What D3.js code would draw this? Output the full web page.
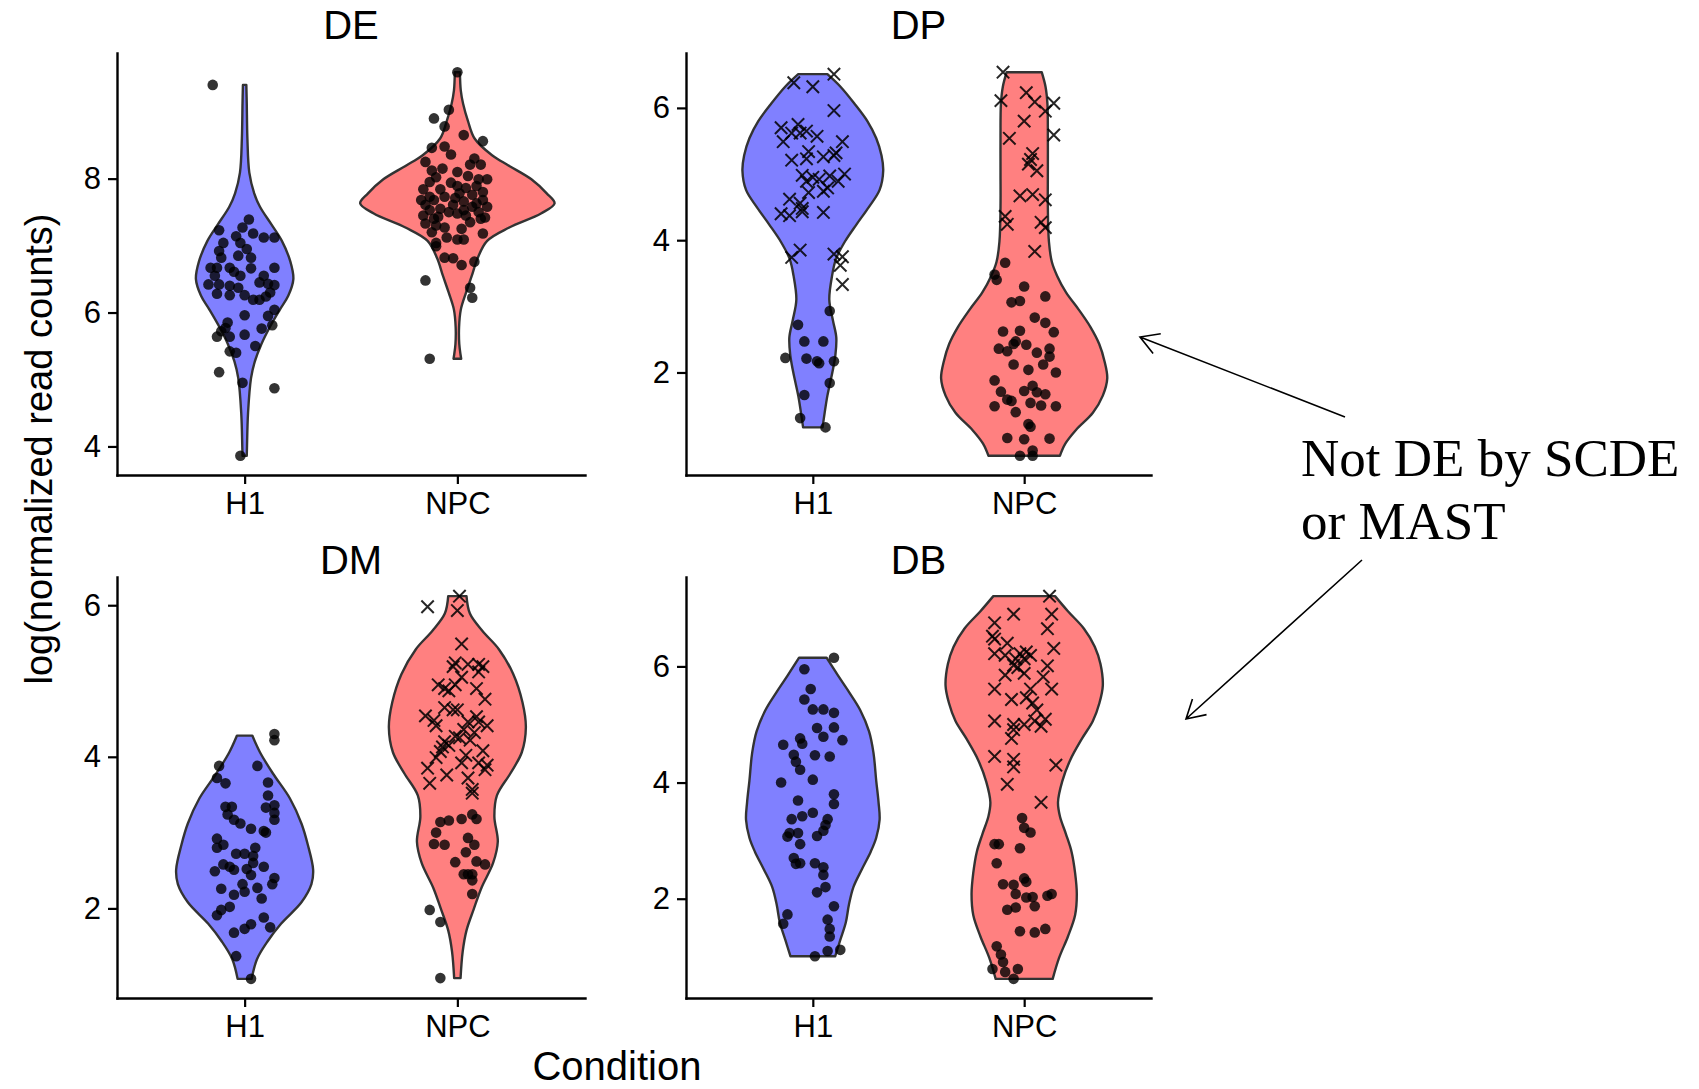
<!DOCTYPE html>
<html>
<head>
<meta charset="utf-8">
<script src="https://cdn.jsdelivr.net/npm/d3@7"></script>
<style>
  html, body { margin: 0; padding: 0; background: #ffffff; }
  svg { display: block; }
</style>
</head>
<body>
<svg id="chart" width="1699" height="1089"></svg>
<script>
// ---- categories ----
const panelNames = ["DE", "DP", "DM", "DB"];
const conditions = ["H1", "NPC"];
const conditionFill = ["#8080ff", "#ff8080"];

// ---- y tick labels per panel ----
const yTicksDE = [4, 6, 8];
const yTicksDP = [2, 4, 6];
const yTicksDM = [2, 4, 6];
const yTicksDB = [2, 4, 6];

// ---- violin outlines: [log(normalized read count), half width in category units] ----
const violinDE_H1 = [[3.86,0.010],[3.99,0.011],[4.5,0.016],[5.02,0.030],[5.27,0.048],[5.53,0.079],[5.78,0.118],[6.04,0.165],[6.25,0.205],[6.5,0.229],[6.76,0.215],[7.07,0.175],[7.32,0.125],[7.58,0.072],[7.78,0.045],[8.09,0.022],[8.6,0.013],[9.12,0.010],[9.40,0.008]];
const violinDE_NPC = [[5.31,0.018],[5.37,0.015],[5.53,0.009],[5.78,0.008],[6.04,0.016],[6.3,0.041],[6.55,0.068],[6.81,0.095],[7.07,0.14],[7.27,0.244],[7.48,0.393],[7.63,0.457],[7.78,0.42],[7.99,0.348],[8.19,0.244],[8.35,0.163],[8.6,0.081],[8.86,0.05],[9.12,0.027],[9.32,0.016],[9.59,0.012]];
const violinDP_H1 = [[1.17,0.046],[1.39,0.056],[1.65,0.069],[2.01,0.093],[2.27,0.107],[2.53,0.111],[2.79,0.095],[3.1,0.078],[3.46,0.091],[3.72,0.11],[3.98,0.152],[4.24,0.207],[4.5,0.265],[4.76,0.316],[5.05,0.333],[5.28,0.325],[5.54,0.3],[5.8,0.258],[6.06,0.198],[6.32,0.131],[6.51,0.069]];
const violinDP_NPC = [[0.74,0.169],[0.92,0.194],[1.13,0.245],[1.39,0.325],[1.65,0.372],[1.91,0.393],[2.17,0.38],[2.43,0.355],[2.69,0.313],[2.95,0.258],[3.21,0.198],[3.46,0.156],[3.67,0.131],[3.98,0.117],[4.5,0.112],[5.02,0.112],[5.54,0.112],[6.06,0.11],[6.32,0.101],[6.54,0.083]];
const violinDM_H1 = [[1.07,0.033],[1.33,0.058],[1.57,0.109],[1.80,0.172],[2.08,0.267],[2.32,0.314],[2.51,0.322],[2.84,0.297],[3.12,0.267],[3.45,0.213],[3.78,0.133],[4.06,0.072],[4.28,0.036]];
const violinDM_NPC = [[1.08,0.015],[1.43,0.025],[1.71,0.043],[1.99,0.077],[2.27,0.113],[2.6,0.168],[2.88,0.19],[3.21,0.174],[3.49,0.186],[3.78,0.249],[4.06,0.303],[4.39,0.322],[4.72,0.306],[5.09,0.263],[5.42,0.195],[5.66,0.118],[5.89,0.059],[6.12,0.043]];
const violinDB_H1 = [[1.01,0.106],[1.29,0.13],[1.59,0.156],[1.9,0.171],[2.2,0.192],[2.5,0.231],[2.81,0.274],[3.05,0.3],[3.36,0.316],[3.66,0.311],[4.03,0.3],[4.51,0.287],[4.88,0.266],[5.25,0.224],[5.55,0.173],[5.85,0.118],[6.15,0.065]];
const violinDB_NPC = [[0.62,0.135],[0.98,0.165],[1.35,0.207],[1.72,0.241],[2.08,0.249],[2.44,0.241],[2.81,0.224],[3.11,0.198],[3.42,0.169],[3.66,0.16],[4.02,0.18],[4.39,0.218],[4.76,0.274],[5.06,0.325],[5.37,0.356],[5.67,0.372],[6.04,0.361],[6.34,0.334],[6.65,0.283],[6.95,0.207],[7.21,0.146]];

// ---- cells: [log(normalized read count), horizontal jitter in category units] ----
const dotsDE_H1 = [[9.40,-0.15],[7.23,-0.12],[7.39,0.02],[7.27,-0.01],[7.18,0.04],[7.14,-0.04],[7.12,0.09],[7.12,0.14],[7.04,-0.10],[7.04,-0.02],[6.92,-0.12],[6.95,0.01],[6.85,-0.03],[6.82,0.03],[6.82,-0.11],[6.67,-0.16],[6.67,-0.13],[6.67,-0.07],[6.61,-0.05],[6.55,-0.02],[6.67,0.14],[6.55,0.09],[6.45,0.07],[6.43,0.11],[6.41,0.14],[6.42,-0.17],[6.42,-0.12],[6.40,-0.07],[6.37,-0.03],[6.28,-0.13],[6.26,-0.07],[6.26,0.00],[6.19,0.04],[6.19,0.07],[6.30,0.12],[6.04,0.14],[5.96,0.00],[5.95,0.11],[5.81,0.13],[5.85,-0.08],[5.77,-0.09],[5.72,-0.11],[5.64,-0.13],[5.64,-0.07],[5.67,0.00],[5.76,0.08],[5.50,0.05],[5.42,-0.07],[5.40,-0.04],[5.11,-0.12],[4.95,-0.01],[4.87,0.14],[3.86,-0.02],[6.55,-0.14],[6.66,0.03],[6.24,0.10]];
const crossesDE_H1 = [];
const dotsDE_NPC = [[9.59,0.00],[9.03,-0.04],[8.90,-0.11],[8.78,-0.06],[8.65,0.03],[8.56,0.12],[8.46,-0.12],[8.48,-0.06],[8.25,-0.15],[8.36,-0.03],[8.12,-0.12],[8.15,-0.07],[8.10,0.00],[8.21,0.06],[8.21,0.11],[7.99,0.14],[8.02,-0.10],[7.99,0.10],[7.89,0.00],[7.84,-0.16],[7.84,-0.08],[7.86,0.04],[7.76,0.07],[7.73,-0.13],[7.73,-0.06],[7.78,0.01],[7.66,0.03],[7.68,0.12],[7.58,0.14],[7.61,-0.15],[7.61,-0.02],[7.58,0.07],[7.50,0.10],[7.45,-0.16],[7.40,-0.11],[7.43,-0.09],[7.50,-0.04],[7.48,0.00],[7.45,0.04],[7.42,0.13],[7.33,-0.15],[7.30,-0.10],[7.27,-0.06],[7.25,0.02],[7.18,0.12],[7.12,-0.05],[7.09,0.00],[7.09,0.03],[7.04,-0.10],[6.99,-0.10],[6.82,-0.06],[6.81,-0.02],[6.76,0.08],[6.71,0.02],[6.48,-0.15],[6.37,0.06],[6.22,0.07],[5.31,-0.13],[7.53,-0.13],[7.55,-0.08],[7.71,-0.01],[7.89,0.09],[7.68,-0.17],[7.94,-0.03],[8.04,0.05],[7.63,0.09],[7.68,-0.11],[7.53,0.03],[7.35,0.06],[7.95,-0.13],[7.80,0.12],[7.20,-0.12],[8.30,0.08],[7.40,0.11]];
const crossesDE_NPC = [];

const crossesDP_H1 = [[6.51,0.10],[6.38,-0.09],[6.32,0.00],[5.96,0.10],[5.70,-0.15],[5.75,-0.07],[5.65,-0.03],[5.62,-0.06],[5.62,-0.10],[5.57,0.02],[5.49,-0.14],[5.49,0.14],[5.34,-0.02],[5.32,0.11],[5.21,-0.10],[5.23,-0.03],[5.26,0.05],[5.28,0.10],[4.98,-0.05],[4.92,0.03],[4.97,0.08],[5.00,0.15],[4.89,-0.03],[4.95,0.00],[4.89,0.12],[4.79,0.07],[4.74,0.05],[4.72,-0.02],[4.62,-0.11],[4.56,-0.06],[4.48,-0.05],[4.40,-0.15],[4.37,-0.11],[4.43,-0.05],[4.42,0.05],[3.85,-0.06],[3.74,-0.10],[3.79,0.10],[3.75,0.14],[3.62,0.13],[3.33,0.14]];
const dotsDP_H1 = [[2.93,0.08],[2.72,-0.07],[2.47,-0.04],[2.47,0.05],[2.22,-0.13],[2.21,-0.03],[2.17,0.02],[2.14,0.03],[2.17,0.10],[1.84,0.08],[1.66,-0.04],[1.31,-0.06],[1.17,0.06]];
const crossesDP_NPC = [[6.54,-0.10],[6.11,-0.11],[6.23,0.01],[6.09,0.05],[6.07,0.14],[5.95,0.10],[5.80,0.00],[5.59,0.14],[5.54,-0.07],[5.31,0.04],[5.22,0.03],[5.15,0.02],[5.05,0.06],[4.67,-0.02],[4.69,0.04],[4.61,0.10],[4.36,-0.09],[4.24,-0.08],[4.27,0.08],[4.19,0.10],[3.83,0.05]];
const dotsDP_NPC = [[3.66,-0.09],[3.48,-0.14],[3.40,-0.13],[3.30,0.00],[3.06,-0.06],[3.08,-0.02],[3.15,0.10],[2.83,0.05],[2.75,0.10],[2.62,-0.10],[2.63,-0.02],[2.61,0.14],[2.47,-0.04],[2.43,-0.05],[2.42,0.01],[2.36,-0.12],[2.32,-0.08],[2.30,0.06],[2.36,0.12],[2.24,0.12],[2.12,-0.05],[2.12,0.09],[2.04,0.02],[2.00,0.15],[1.88,-0.14],[1.71,-0.11],[1.72,0.00],[1.80,0.04],[1.70,0.06],[1.67,0.10],[1.59,-0.08],[1.54,0.03],[1.49,-0.14],[1.57,-0.06],[1.50,0.08],[1.49,0.15],[1.40,-0.04],[1.22,0.02],[1.18,0.03],[1.01,-0.08],[0.99,0.00],[1.00,0.12],[0.82,0.04],[0.74,-0.02],[0.74,0.04]];

const dotsDM_H1 = [[4.30,0.14],[4.22,0.14],[3.88,-0.12],[3.88,0.06],[3.72,-0.13],[3.65,-0.09],[3.66,0.11],[3.49,0.11],[3.34,-0.09],[3.34,-0.06],[3.33,0.10],[3.36,0.14],[3.24,-0.08],[3.26,0.14],[3.17,0.14],[3.17,-0.05],[3.12,-0.02],[3.05,0.03],[3.02,0.09],[3.00,0.10],[2.92,-0.13],[2.80,-0.13],[2.84,-0.10],[2.80,0.05],[2.72,-0.04],[2.72,0.00],[2.69,0.04],[2.58,-0.10],[2.55,-0.07],[2.60,0.04],[2.55,0.09],[2.49,-0.14],[2.51,-0.05],[2.52,0.01],[2.44,0.03],[2.40,0.14],[2.32,-0.01],[2.27,0.06],[2.26,-0.11],[2.32,0.13],[2.22,0.00],[2.18,-0.05],[2.13,0.08],[2.02,-0.07],[1.98,-0.11],[1.91,-0.13],[1.88,0.09],[1.73,0.00],[1.79,0.03],[1.68,-0.05],[1.75,0.12],[1.37,-0.04],[1.07,0.03]];
const crossesDM_H1 = [];
const crossesDM_NPC = [[6.12,0.01],[5.98,-0.14],[5.93,0.00],[5.49,0.02],[5.24,-0.01],[5.22,0.05],[5.22,0.10],[5.19,0.12],[5.19,-0.02],[5.12,0.10],[5.05,0.02],[4.95,-0.09],[4.90,-0.06],[4.95,-0.01],[4.87,-0.04],[4.90,0.09],[4.76,0.13],[4.65,-0.06],[4.62,-0.02],[4.62,0.00],[4.54,-0.15],[4.48,-0.11],[4.46,0.05],[4.53,0.09],[4.46,0.10],[4.41,0.14],[4.41,-0.10],[4.36,0.03],[4.32,0.08],[4.27,-0.01],[4.20,-0.06],[4.25,0.01],[4.22,0.06],[4.13,-0.07],[4.15,-0.04],[4.08,0.12],[3.99,-0.10],[4.07,-0.08],[4.02,0.04],[3.92,0.10],[3.92,0.02],[3.89,0.14],[3.85,-0.14],[3.83,0.13],[3.76,-0.05],[3.72,0.05],[3.65,-0.13],[3.57,0.07],[3.52,0.07]];
const dotsDM_NPC = [[3.16,-0.04],[3.14,-0.08],[3.18,0.02],[3.24,0.07],[3.18,0.09],[3.00,-0.10],[2.93,0.05],[2.85,-0.11],[2.84,-0.06],[2.84,0.08],[2.74,0.04],[2.61,-0.01],[2.62,0.09],[2.58,0.13],[2.45,0.05],[2.45,0.07],[2.45,0.03],[2.37,0.07],[2.19,0.07],[1.98,-0.13],[1.82,-0.08],[1.08,-0.08]];

const dotsDB_H1 = [[6.15,0.10],[5.95,-0.04],[5.61,-0.01],[5.43,-0.04],[5.26,0.00],[5.26,0.05],[5.20,0.10],[4.94,0.02],[4.95,0.10],[4.79,0.05],[4.73,0.14],[4.76,-0.06],[4.67,-0.05],[4.65,-0.14],[4.48,-0.09],[4.47,0.01],[4.45,0.08],[4.36,-0.08],[4.22,-0.06],[4.05,0.00],[4.00,-0.15],[3.80,0.10],[3.63,0.10],[3.69,-0.07],[3.48,0.00],[3.42,-0.05],[3.37,-0.10],[3.37,0.07],[3.27,0.06],[3.17,0.05],[3.13,-0.11],[3.13,-0.07],[3.08,0.02],[2.94,-0.06],[3.07,-0.12],[2.70,-0.09],[2.60,-0.08],[2.61,-0.06],[2.61,0.01],[2.54,0.05],[2.41,0.05],[2.20,0.06],[2.11,0.02],[1.87,0.10],[1.73,-0.12],[1.57,-0.14],[1.64,0.07],[1.48,0.08],[1.35,0.08],[1.10,0.07],[1.12,0.13],[1.01,0.01]];
const crossesDB_H1 = [];
const crossesDB_NPC = [[7.21,0.12],[6.90,-0.05],[6.90,0.13],[6.75,-0.14],[6.65,0.11],[6.52,-0.15],[6.47,-0.14],[6.40,-0.08],[6.31,0.14],[6.22,-0.14],[6.19,-0.09],[6.22,-0.02],[6.25,0.01],[6.19,0.03],[6.13,-0.04],[6.13,0.00],[6.02,-0.05],[6.01,0.11],[5.98,-0.03],[5.88,0.00],[5.85,-0.09],[5.82,0.09],[5.61,-0.14],[5.61,0.13],[5.61,0.03],[5.43,-0.06],[5.46,0.01],[5.37,0.04],[5.25,0.06],[5.06,-0.14],[5.00,-0.05],[5.00,0.00],[5.06,0.05],[4.97,0.08],[5.09,0.10],[4.91,-0.05],[4.76,-0.06],[4.45,-0.14],[4.40,-0.05],[4.27,-0.05],[4.30,0.15],[3.97,-0.08],[3.66,0.08]];
const dotsDB_NPC = [[3.39,-0.01],[3.22,0.00],[3.14,0.03],[2.94,-0.14],[2.94,-0.12],[2.87,-0.02],[2.61,-0.13],[2.35,0.00],[2.29,0.01],[2.25,-0.10],[2.24,-0.05],[2.08,-0.04],[2.02,0.01],[2.03,0.04],[2.05,0.11],[2.08,0.13],[1.81,-0.08],[1.85,-0.04],[1.87,0.05],[1.44,-0.02],[1.42,0.05],[1.48,0.10],[1.18,-0.13],[1.04,-0.11],[0.91,-0.10],[0.79,-0.15],[0.74,-0.09],[0.79,-0.03],[0.62,-0.05]];

// ---- assemble panels from the arrays above ----
const panelData = [
  { name: panelNames[0], ticks: yTicksDE, groups: [
    { violin: violinDE_H1, dots: dotsDE_H1, crosses: crossesDE_H1 },
    { violin: violinDE_NPC, dots: dotsDE_NPC, crosses: crossesDE_NPC } ] },
  { name: panelNames[1], ticks: yTicksDP, groups: [
    { violin: violinDP_H1, dots: dotsDP_H1, crosses: crossesDP_H1 },
    { violin: violinDP_NPC, dots: dotsDP_NPC, crosses: crossesDP_NPC } ] },
  { name: panelNames[2], ticks: yTicksDM, groups: [
    { violin: violinDM_H1, dots: dotsDM_H1, crosses: crossesDM_H1 },
    { violin: violinDM_NPC, dots: dotsDM_NPC, crosses: crossesDM_NPC } ] },
  { name: panelNames[3], ticks: yTicksDB, groups: [
    { violin: violinDB_H1, dots: dotsDB_H1, crosses: crossesDB_H1 },
    { violin: violinDB_NPC, dots: dotsDB_NPC, crosses: crossesDB_NPC } ] }
];

// ---- page layout (pixels) ----
const panelBoxes = [
  { x0: 117, x1: 585, top: 53, bottom: 475, titleY: 39 },
  { x0: 686, x1: 1151, top: 53, bottom: 475, titleY: 39 },
  { x0: 117, x1: 585, top: 577, bottom: 998, titleY: 574 },
  { x0: 686, x1: 1151, top: 577, bottom: 998, titleY: 574 }
];
const sansFont = "'Liberation Sans', Arial, Helvetica, sans-serif";
const serifFont = "'Liberation Serif', 'Times New Roman', serif";

const svg = d3.select("#chart");
svg.append("rect").attr("width", 1699).attr("height", 1089).attr("fill", "#ffffff");

panelData.forEach((panel, i) => {
  const box = panelBoxes[i];

  // y scale: data range with 5% padding at each end
  const values = panel.groups.flatMap(g => g.dots.concat(g.crosses).map(d => d[0]));
  const [lo, hi] = d3.extent(values);
  const pad = (hi - lo) * 0.05;
  const y = d3.scaleLinear().domain([lo - pad, hi + pad]).range([box.bottom, box.top]);

  // discrete x scale with 0.6 category padding on both sides
  const x = d3.scalePoint().domain(conditions).range([box.x0, box.x1]).padding(0.6);
  const unit = x.step();

  const g = svg.append("g").attr("class", "panel");

  // violins
  panel.groups.forEach((grp, k) => {
    const cx = x(conditions[k]);
    const area = d3.area()
      .curve(d3.curveCatmullRom.alpha(0.5))
      .y(d => y(d[0]))
      .x0(d => cx - d[1] * unit)
      .x1(d => cx + d[1] * unit);
    g.append("path")
      .attr("d", area(grp.violin))
      .attr("fill", conditionFill[k])
      .attr("stroke", "#333333")
      .attr("stroke-width", 2.4)
      .attr("stroke-linejoin", "round");
  });

  // jittered cells
  panel.groups.forEach((grp, k) => {
    const cx = x(conditions[k]);
    g.append("g").selectAll("circle").data(grp.dots).join("circle")
      .attr("cx", d => cx + d[1] * unit)
      .attr("cy", d => y(d[0]))
      .attr("r", 5.3)
      .attr("fill", "#000000")
      .attr("fill-opacity", 0.8);
    const s = 6.2;
    g.append("g").selectAll("path").data(grp.crosses).join("path")
      .attr("transform", d => `translate(${cx + d[1] * unit},${y(d[0])})`)
      .attr("d", `M${-s},${-s}L${s},${s}M${-s},${s}L${s},${-s}`)
      .attr("stroke", "#000000")
      .attr("stroke-opacity", 0.85)
      .attr("stroke-width", 2)
      .attr("fill", "none");
  });

  // axes
  const yAxis = d3.axisLeft(y).tickValues(panel.ticks).tickFormat(d3.format("d"))
    .tickSize(9).tickSizeOuter(0).tickPadding(7);
  const xAxis = d3.axisBottom(x).tickSize(9).tickSizeOuter(0).tickPadding(8);

  const ya = g.append("g").attr("transform", `translate(${box.x0},0)`).call(yAxis);
  const xa = g.append("g").attr("transform", `translate(0,${box.bottom})`).call(xAxis);
  [ya, xa].forEach(a => {
    a.select(".domain").attr("stroke", "#000").attr("stroke-width", 2.4).attr("stroke-linecap", "square");
    a.selectAll(".tick line").attr("stroke", "#000").attr("stroke-width", 2.2);
    a.selectAll(".tick text").attr("fill", "#000").style("font-family", sansFont).style("font-size", "31px");
  });

  // panel title
  svg.append("text")
    .attr("x", (box.x0 + box.x1) / 2)
    .attr("y", box.titleY)
    .attr("text-anchor", "middle")
    .style("font-family", sansFont)
    .style("font-size", "40px")
    .attr("fill", "#000")
    .text(panel.name);
});

// shared axis titles
svg.append("text")
  .attr("transform", "translate(52,449) rotate(-90)")
  .attr("text-anchor", "middle")
  .style("font-family", sansFont)
  .style("font-size", "38px")
  .attr("fill", "#000")
  .text("log(normalized read counts)");

svg.append("text")
  .attr("x", 617)
  .attr("y", 1080)
  .attr("text-anchor", "middle")
  .style("font-family", sansFont)
  .style("font-size", "40px")
  .attr("fill", "#000")
  .text("Condition");

// side note with arrows pointing at the DP and DB panels
const noteLines = ["Not DE by SCDE", "or MAST"];
const note = svg.append("text")
  .attr("x", 1301)
  .attr("y", 476)
  .style("font-family", serifFont)
  .style("font-size", "53px")
  .attr("fill", "#000");
note.selectAll("tspan").data(noteLines).join("tspan")
  .attr("x", 1301)
  .attr("dy", (d, i) => i === 0 ? 0 : 63)
  .text(d => d);

const arrows = [
  { from: [1345, 417], to: [1140, 337] },
  { from: [1362, 560], to: [1186, 719] }
];
const arrowG = svg.append("g").attr("stroke", "#000").attr("stroke-width", 1.6).attr("fill", "none");
arrows.forEach(a => {
  const [x1, y1] = a.from, [x2, y2] = a.to;
  const ang = Math.atan2(y1 - y2, x1 - x2);
  const len = 21, spread = Math.PI / 6;
  const p = d3.path();
  p.moveTo(x1, y1); p.lineTo(x2, y2);
  p.moveTo(x2 + len * Math.cos(ang + spread), y2 + len * Math.sin(ang + spread));
  p.lineTo(x2, y2);
  p.lineTo(x2 + len * Math.cos(ang - spread), y2 + len * Math.sin(ang - spread));
  arrowG.append("path").attr("d", p.toString());
});
</script>
</body>
</html>
